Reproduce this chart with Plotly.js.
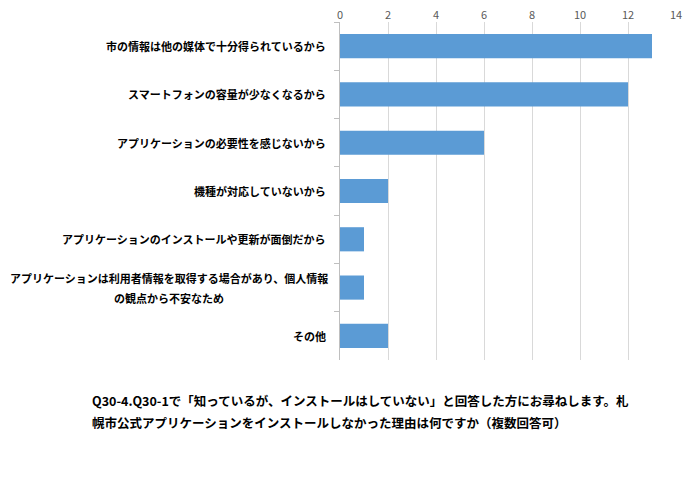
<!DOCTYPE html>
<html>
<head>
<meta charset="utf-8">
<script src="https://cdn.plot.ly/plotly-3.0.1.min.js"></script>
<style>html,body{margin:0;padding:0;background:#fff;}#chart{width:700px;height:482px;}</style>
</head>
<body>
<div id="chart"></div>
<script>
const categories = [
  "市の情報は他の媒体で十分得られているから",
  "スマートフォンの容量が少なくなるから",
  "アプリケーションの必要性を感じないから",
  "機種が対応していないから",
  "アプリケーションのインストールや更新が面倒だから",
  "アプリケーションは利用者情報を取得する場合があり、個人情報<br>の観点から不安なため",
  "その他"
];
const values = [13, 12, 6, 2, 1, 1, 2];
const xTicks = [0, 2, 4, 6, 8, 10, 12, 14];
const titleLines = [
  "Q30-4.Q30-1で「知っているが、インストールはしていない」と回答した方にお尋ねします。札",
  "幌市公式アプリケーションをインストールしなかった理由は何ですか（複数回答可）"
];

const font = "'Noto Sans CJK JP', 'Noto Sans', sans-serif";
const plotW = 700 - 340 - 24;

const labelAnnotations = [];
categories.forEach(c => {
  const lines = c.split('<br>');
  const n = lines.length;
  lines.forEach((ln, i) => {
    labelAnnotations.push({
      x: 0, xref: 'paper', xanchor: n > 1 ? 'center' : 'right',
      xshift: n > 1 ? -12 - 159 : -12,
      y: c, yref: 'y', yanchor: 'middle',
      yshift: ((n - 1) / 2 - i) * 20,
      text: '<b>' + ln + '</b>', showarrow: false,
      font: {family: font, size: 11, color: '#000'}
    });
  });
});

const titleAnnotations = titleLines.map((t, i) => ({
  x: (90 - 340) / plotW, xref: 'paper', y: 0, yref: 'paper',
  xanchor: 'left', yanchor: 'middle', yshift: -40 - i * 22,
  text: '<b>' + t + '</b>', showarrow: false,
  font: {family: font, size: 12.5, color: '#000'}
}));

const data = [{
  type: 'bar', orientation: 'h',
  x: values, y: categories,
  marker: {color: '#5B9BD5'},
  width: 0.5,
  hoverinfo: 'none'
}];

const layout = {
  width: 700, height: 482,
  margin: {l: 340, r: 24, t: 22, b: 122},
  paper_bgcolor: '#fff', plot_bgcolor: '#fff',
  showlegend: false,
  font: {family: font},
  xaxis: {
    side: 'top', range: [0, 14], tickvals: xTicks,
    ticktext: xTicks.map(String),
    showgrid: true, gridcolor: '#d9d9d9', gridwidth: 1,
    zeroline: false, showline: false, ticks: '',
    tickfont: {family: font, size: 11, color: '#595959'},
    fixedrange: true
  },
  yaxis: {
    type: 'category', autorange: 'reversed',
    showticklabels: false, showgrid: false, zeroline: false,
    showline: true, linecolor: '#bfbfbf', linewidth: 1,
    ticks: 'outside', ticklen: 5, tickcolor: '#bfbfbf', tickson: 'boundaries',
    fixedrange: true
  },
  annotations: labelAnnotations.concat(titleAnnotations)
};

Plotly.newPlot('chart', data, layout, {displayModeBar: false, staticPlot: true});
</script>
</body>
</html>
